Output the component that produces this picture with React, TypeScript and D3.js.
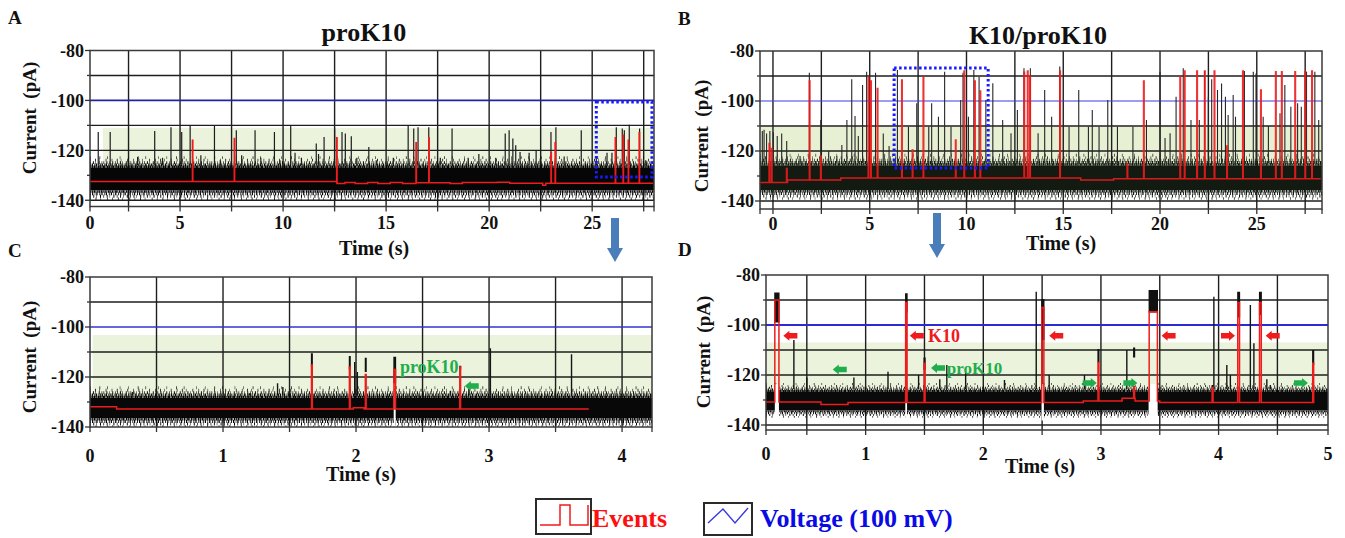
import React from "react";
import * as d3 from "d3";

const FONT = "'Liberation Serif', 'Times New Roman', Times, serif";

// ---------------- shared axis values ----------------
const currentTickLabels = [-80, -100, -120, -140];
const currentMinorTicks = [-90, -110, -130];
const voltageLevel = -100;

// ---------------- Panel A : proK10 (full trace) ----------------
const aTimeTicks = [0, 5, 10, 15, 20, 25];
const aGridT = [2.5, 5, 7.5, 10, 12.5, 15, 17.5, 20, 22.5, 25, 27.5];
const aGridI = [-90, -110, -120, -130, -140];
const aNoiseT = [0.63, 28.0];
const aNoiseUp = [-127, -127];
const aNoiseLo = [-136, -136];
const aSpikeT = [1.03, 1.61, 2.48, 2.94, 3.77, 4.15, 4.56, 5.08, 5.49, 6.01, 6.67, 6.95, 7.73, 7.99, 8.64, 8.92, 9.58, 9.85, 10.37, 10.58, 10.89, 11.61, 11.72, 11.99, 12.5, 12.86, 13.02, 13.31, 13.58, 14.16, 14.52, 15.35, 16.07, 16.34, 16.55, 17.07, 17.63, 18.2, 18.98, 19.5, 20.32, 20.78, 20.97, 21.15, 21.29, 21.5, 21.94, 22.28, 22.5, 23.0, 23.24, 23.64, 24.47, 25.2, 25.72, 25.96, 26.17, 26.46, 26.56, 26.8, 27.3, 27.6];
const aSpikePeak = [-112.7, -112.7, -124, -122.7, -112.3, -123, -110.7, -112.7, -110, -122, -110, -124, -112, -122, -112, -123, -112.7, -124, -110, -121, -123, -117.3, -121.5, -114.7, -111.3, -112.7, -113.3, -114.4, -123, -118.7, -124, -123, -110, -111.3, -110.7, -110.7, -123, -111.3, -123, -121.5, -123, -113.3, -112, -115.3, -118, -120.7, -121, -120, -123, -112.7, -110.7, -122.5, -112, -123, -121, -121, -110.7, -111.3, -112, -109.7, -111.3, -124];
const aEventT = [5.6, 7.63, 12.6, 16.45, 17.07, 23.0, 23.2, 26.12, 26.5, 26.75, 27.28];
const aEventLevel = [-116, -115.3, -115, -117, -115, -121, -117, -115, -114, -116, -113];
const aBaseT = [0.63, 12.6, 13.0, 13.5, 14.1, 14.6, 15.2, 15.8, 16.45, 18.1, 18.7, 20.4, 21.0, 22.6, 22.75];
const aBaseV = [-132.5, -133.3, -132.9, -133.3, -132.9, -133.3, -132.9, -133.3, -133, -133.3, -132.9, -132.8, -133.2, -134, -133.2];
const aZoomBox = [25.2, 27.9, -100.6, -130.7];

// ---------------- Panel B : K10/proK10 (full trace) ----------------
const bTimeTicks = [0, 5, 10, 15, 20, 25];
const bGridT = [0, 2.5, 5, 7.5, 10, 12.5, 15, 17.5, 20, 22.5, 25, 27.5];
const bGridI = [-90, -110, -120, -130, -140];
const bNoiseT = [-0.67, 28.37];
const bNoiseUp = [-125.8, -125.8];
const bNoiseLo = [-135.6, -135.6];
const bSpikeT = [-0.55, -0.46, -0.33, -0.16, 0.02, 0.22, 0.45, 0.71, 1.05, 1.4, 1.88, 2.47, 2.88, 3.3, 3.56, 3.82, 4.07, 4.24, 4.41, 4.63, 4.84, 5.3, 5.7, 6.0, 6.43, 7.0, 7.43, 8.05, 8.2, 8.55, 8.87, 9.2, 9.7, 9.82, 10.1, 10.38, 10.65, 11.0, 11.36, 11.87, 12.3, 12.63, 12.97, 13.3, 13.7, 14.04, 14.4, 14.82, 15.3, 15.8, 16.3, 16.5, 16.85, 17.3, 17.8, 18.6, 19.3, 20.0, 20.26, 20.52, 20.83, 21.2, 21.6, 22.03, 22.3, 22.5, 22.67, 22.97, 23.18, 23.38, 23.52, 23.78, 23.9, 24.36, 24.82, 24.96, 25.33, 25.6, 26.2, 26.45, 26.76, 27.11, 27.3, 27.57, 28.0, 28.2];
const bSpikePeak = [-112, -111.5, -113, -112, -112.5, -114, -113, -116, -124.9, -122, -88.7, -107.6, -120, -122, -117.6, -107.6, -91.3, -106, -114, -93.6, -88.3, -88.7, -113, -118, -87.6, -110.3, -100.9, -110.3, -100.9, -106.3, -88.3, -110.3, -99.6, -88.7, -106.3, -87.6, -90.3, -99.6, -92.9, -107.6, -112.9, -103.6, -86.9, -86.9, -112.9, -95.6, -106.3, -86.2, -110.3, -95.6, -110.3, -103.6, -110.3, -99.6, -110.3, -110.3, -107.6, -88.3, -114.8, -112.9, -98.3, -86.9, -107.6, -107.6, -88, -98.3, -91.3, -95.6, -93, -98.3, -105.6, -97.6, -106.3, -88, -88.3, -89, -106.3, -110, -104.9, -93.6, -102.3, -100.9, -102.3, -88.3, -88.3, -107.6];
const bEventT = [-0.2, -0.08, 0.7, 1.88, 2.46, 4.92, 5.05, 5.39, 6.65, 7.2, 7.76, 9.43, 9.87, 10.42, 10.7, 12.97, 13.15, 13.27, 14.82, 18.3, 19.15, 21.03, 21.26, 21.9, 22.3, 22.8, 23.45, 24.27, 25.2, 25.97, 26.28, 26.97, 27.49, 27.84];
const bEventLevel = [-117, -119, -127, -92, -122, -90.5, -92, -95, -91.6, -119.6, -90.5, -115.6, -88, -92, -96, -88.5, -88, -90, -88, -125, -92, -90.3, -88, -88, -88, -88, -118, -88, -95.6, -88.3, -88.3, -88.3, -88.3, -88];
const bBaseT = [-0.67, 0.75, 3.5, 15.9, 17.6];
const bBaseV = [-132.6, -131.6, -130.8, -131.6, -131.1];
const bZoomBox = [6.26, 11.12, -86.8, -126.8];

// ---------------- Panel C : proK10 (zoom) ----------------
const cTimeTicks = [0, 1, 2, 3, 4];
const cGridT = [0.5, 1, 1.5, 2, 2.5, 3, 3.5, 4];
const cGridI = [-90, -110, -120, -130];
const cNoiseT = [0, 4.225];
const cNoiseUp = [-128.4, -128.4];
const cNoiseLo = [-136.4, -136.4];
const cGaps: [number, number][] = [[2.283, 2.298]];
const cSpikeT = [0.32, 1.2, 1.41, 1.45, 1.99, 2.01, 2.71, 2.85, 3.01, 3.62];
const cSpikePeak = [-126, -126.5, -122.5, -124, -114, -118, -125.5, -124.5, -108.5, -110.9];
const cEventT = [1.665, 1.95, 2.07, 2.285, 2.78];
const cEventDur = [0.006, 0.006, 0.006, 0.012, 0.006];
const cEventLevel = [-115.2, -116, -119, -117, -116];
const cEventTop = [-110.5, -111.6, -112.3, -111.9, -115.5];
const cEventBottom = [-116, -117, -118, -122.5, -117];
const cBaseT = [0, 0.2, 1.98, 2.06];
const cBaseV = [-131.9, -132.8, -132.3, -132.8];
const cGreenArrowT = [2.87];
const cGreenArrowI = [-123.6];
const cGreenArrowDir = [-1];

// ---------------- Panel D : K10/proK10 (zoom) ----------------
const dTimeTicks = [0, 1, 2, 3, 4, 5];
const dGridT = [0.5, 1, 1.5, 2, 2.5, 3, 3.5, 4, 4.5];
const dGridI = [-90, -110, -120, -130, -140];
const dNoiseT = [0.153, 4.93];
const dNoiseUp = [-126.7, -126.7];
const dNoiseLo = [-134.2, -134.2];
const dGaps: [number, number][] = [[0.228, 0.263], [1.337, 1.352], [2.495, 2.515], [3.405, 3.482]];
const dSpikeT = [0.39, 0.5, 0.9, 1.19, 1.45, 1.63, 1.69, 1.85, 2.18, 2.45, 2.56, 2.86, 3.22, 3.96, 4.07, 4.1, 4.27, 4.3, 4.41, 4.44];
const dSpikePeak = [-106, -121, -121, -118.7, -120, -121.7, -116, -119, -122, -86.7, -120, -120, -110, -88.7, -116, -120, -92, -107.3, -121.7, -124];
const dEventT = [0.228, 1.34, 1.497, 2.497, 2.975, 3.278, 3.41, 3.945, 4.163, 4.348, 4.8];
const dEventDur = [0.035, 0.012, 0.008, 0.018, 0.008, 0.008, 0.07, 0.008, 0.015, 0.015, 0.008];
const dEventLevel = [-90, -91, -115.3, -93, -115, -124.7, -94.7, -125, -91, -91, -115.3];
const dEventTop = [-87, -87.3, -113, -89.6, -109.6, -109, -86, -124, -86.7, -86.7, -110];
const dEventBottom = [-99, -95, -118, -106, -115, -113, -95, -125, -97, -96, -116];
const dBaseT = [0.153, 0.62, 0.85, 2.85, 3.18, 3.29, 3.5];
const dBaseV = [-130.8, -131.8, -131, -130.4, -129.3, -130.4, -131];
const dRedArrowT = [0.36, 1.435, 2.62, 3.575, 4.08, 4.46];
const dRedArrowI = [-104.3, -104.3, -104.3, -104.3, -104.3, -104.3];
const dRedArrowDir = [-1, -1, -1, -1, 1, -1];
const dGreenArrowT = [0.78, 1.615, 2.905, 3.25, 4.7];
const dGreenArrowI = [-117.8, -117.2, -123.2, -123.2, -123.2];
const dGreenArrowDir = [-1, -1, 1, 1, 1];

// ---------------- Legend ----------------
const legendLabels = ["Events", "Voltage (100 mV)"];

type Ev = { t: number; d: number; lv: number; top?: number; bot?: number };
type Arrow = { t: number; i: number; dir: number; color: string };
type Note = { t: number; i: number; text: string; color: string; size: number };

interface PanelSpec {
  id: string;
  px: [number, number];
  py: [number, number];
  tDom: [number, number];
  iDom: [number, number];
  timeTicks: number[];
  tickBase: number;
  gridT: number[];
  gridI: number[];
  noiseT: number[];
  noiseUp: number[];
  noiseLo: number[];
  noiseFill: string;
  fringe: number;
  gaps: [number, number][];
  spikeT: number[];
  spikePeak: number[];
  spikeW: number;
  spikeColor: string;
  events: Ev[];
  baseT: number[];
  baseV: number[];
  redEnd: number;
  redOpacity: number;
  greenT: number;
  greenTop: number;
  greenFill: string;
  blueColor: string;
  blueW: number;
  zoomBox?: number[];
  arrows: Arrow[];
  notes: Note[];
}

const RED = "#ee1c1c";
const GREEN = "#1fae4b";

const panels: PanelSpec[] = [
  {
    id: "A", px: [90, 654], py: [50.5, 206.5], tDom: [0.63, 28.0], iDom: [-142.5, -80],
    timeTicks: aTimeTicks, tickBase: 228.5, gridT: aGridT, gridI: aGridI,
    noiseT: aNoiseT, noiseUp: aNoiseUp, noiseLo: aNoiseLo, noiseFill: "#060606", fringe: 1, gaps: [],
    spikeT: aSpikeT, spikePeak: aSpikePeak, spikeW: 1.2, spikeColor: "#1c1c1c",
    events: aEventT.map((t, i) => ({ t, d: 0.02, lv: aEventLevel[i] })),
    baseT: aBaseT, baseV: aBaseV, redEnd: 27.95, redOpacity: 1,
    greenT: 1.26, greenTop: -111, greenFill: "#ebf3dc", blueColor: "#2323a8", blueW: 1.8,
    zoomBox: aZoomBox, arrows: [], notes: [],
  },
  {
    id: "B", px: [760, 1322], py: [51, 209], tDom: [-0.67, 28.37], iDom: [-143.2, -80],
    timeTicks: bTimeTicks, tickBase: 229.5, gridT: bGridT, gridI: bGridI,
    noiseT: bNoiseT, noiseUp: bNoiseUp, noiseLo: bNoiseLo, noiseFill: "#131a11", fringe: 1, gaps: [],
    spikeT: bSpikeT, spikePeak: bSpikePeak, spikeW: 1.1, spikeColor: "#262626",
    events: bEventT.map((t, i) => ({ t, d: 0.03, lv: bEventLevel[i] })),
    baseT: bBaseT, baseV: bBaseV, redEnd: 28.3, redOpacity: 0.9,
    greenT: -0.67, greenTop: -110.3, greenFill: "#e7f0d3", blueColor: "#3b3be6", blueW: 1.2,
    zoomBox: bZoomBox, arrows: [], notes: [],
  },
  {
    id: "C", px: [90, 652], py: [277, 427], tDom: [0, 4.225], iDom: [-140, -80],
    timeTicks: cTimeTicks, tickBase: 461.5, gridT: cGridT, gridI: cGridI,
    noiseT: cNoiseT, noiseUp: cNoiseUp, noiseLo: cNoiseLo, noiseFill: "#080808", fringe: 1, gaps: cGaps,
    spikeT: cSpikeT, spikePeak: cSpikePeak, spikeW: 1.4, spikeColor: "#151515",
    events: cEventT.map((t, i) => ({ t, d: cEventDur[i], lv: cEventLevel[i], top: cEventTop[i], bot: cEventBottom[i] })),
    baseT: cBaseT, baseV: cBaseV, redEnd: 3.75, redOpacity: 1,
    greenT: 0.02, greenTop: -103.2, greenFill: "#ebf3dc", blueColor: "#3434d0", blueW: 1.5,
    arrows: cGreenArrowT.map((t, i) => ({ t, i: cGreenArrowI[i], dir: cGreenArrowDir[i], color: GREEN })),
    notes: [{ t: 2.33, i: -116, text: "proK10", color: GREEN, size: 18 }],
  },
  {
    id: "D", px: [766, 1328], py: [275, 430], tDom: [0.153, 4.93], iDom: [-142, -80],
    timeTicks: dTimeTicks, tickBase: 460, gridT: dGridT, gridI: dGridI,
    noiseT: dNoiseT, noiseUp: dNoiseUp, noiseLo: dNoiseLo, noiseFill: "#0a0a0a", fringe: 0.75, gaps: dGaps,
    spikeT: dSpikeT, spikePeak: dSpikePeak, spikeW: 1.4, spikeColor: "#151515",
    events: dEventT.map((t, i) => ({ t, d: dEventDur[i], lv: dEventLevel[i], top: dEventTop[i], bot: dEventBottom[i] })),
    baseT: dBaseT, baseV: dBaseV, redEnd: 4.815, redOpacity: 1,
    greenT: 0.16, greenTop: -107, greenFill: "#ebf3dc", blueColor: "#2b2bd6", blueW: 1.8,
    arrows: [
      ...dRedArrowT.map((t, i) => ({ t, i: dRedArrowI[i], dir: dRedArrowDir[i], color: RED })),
      ...dGreenArrowT.map((t, i) => ({ t, i: dGreenArrowI[i], dir: dGreenArrowDir[i], color: GREEN })),
    ],
    notes: [
      { t: 1.53, i: -104.3, text: "K10", color: RED, size: 18 },
      { t: 1.69, i: -117.2, text: "proK10", color: GREEN, size: 17 },
    ],
  },
];

// texture layers for the noise band edges: [offset (pA, away from band), stroke width (px), dash pattern]
const upperTexture: [number, number, string][] = [
  [0.4, 2.5, "1.6 0.5 1.1 0.4 2 0.6 0.9 0.5 1.4 0.3"],
  [1.2, 2.8, "0.9 0.8 1.3 1.1 0.6 0.9 1.5 1.4 0.8 0.6"],
  [2.1, 2.8, "0.7 2.2 1 1.6 0.5 2.8 0.9 1.9 0.6 1.3"],
  [3.1, 2.8, "0.6 4.5 0.8 3.2 0.5 6.1 0.7 5.3"],
  [4.1, 2.8, "0.5 9 0.7 7 0.6 12 0.5 8"],
];
const lowerTexture: [number, number, string][] = [
  [0.5, 2.5, "1.4 0.5 1 0.6 1.8 0.4 0.8 0.7"],
  [1.4, 2.8, "0.9 1.1 1.2 1.5 0.6 1 1.3 1.8"],
  [2.4, 2.8, "0.7 2.6 0.9 2 0.5 3.3 1 2.4"],
  [3.4, 2.4, "0.6 5 0.8 3.8 0.5 6.5 0.7 4.4"],
];

function ArrowShape({ cx, cy, dir, color }: { cx: number; cy: number; dir: number; color: string }) {
  const shape = [[-7, 0], [-1, -5], [-1, -2.8], [7, -2.8], [7, 2.8], [-1, 2.8], [-1, 5]];
  const pts = shape.map(([a, b]) => `${cx + (dir < 0 ? a : -a)},${cy + b}`);
  return <polygon points={pts.join(" ")} fill={color} />;
}

function Panel({ s }: { s: PanelSpec }) {
  const x = d3.scaleLinear().domain(s.tDom).range(s.px);
  const y = d3.scaleLinear().domain(s.iDom).range([s.py[1], s.py[0]]);
  const [L, R] = s.px;
  const [T, B] = s.py;
  const clipId = `clip-${s.id}`;
  const pts = s.noiseT.map((t, i) => ({ t, up: s.noiseUp[i], lo: s.noiseLo[i] }));
  const area = d3.area<any>().x((d) => x(d.t)).y0((d) => y(d.lo)).y1((d) => y(d.up))(pts) || "";
  const edge = (key: "up" | "lo", off: number) =>
    d3.line<any>().x((d) => x(d.t)).y((d) => y(d[key] + off))(pts) || "";
  const upAt = d3.scaleLinear().domain(s.noiseT).range(s.noiseUp).clamp(true);
  const f = s.fringe;

  // red event-detection trace
  const baseAt = (t: number) => {
    let v = s.baseV[0];
    s.baseT.forEach((st, i) => { if (st <= t) v = s.baseV[i]; });
    return v;
  };
  const t0 = s.tDom[0];
  const t1 = s.redEnd;
  const knots: { t: number; kind: "s" | "e"; i: number }[] = [];
  s.baseT.forEach((t, i) => { if (t > t0 && t < t1) knots.push({ t, kind: "s", i }); });
  s.events.forEach((e, i) => { if (e.t > t0 && e.t < t1) knots.push({ t: e.t, kind: "e", i }); });
  knots.sort((a, b) => a.t - b.t);
  const rp: [number, number][] = [[t0, baseAt(t0)]];
  for (const k of knots) {
    if (k.kind === "s") {
      rp.push([k.t, baseAt(k.t - 1e-6)], [k.t, s.baseV[k.i]]);
    } else {
      const e = s.events[k.i];
      const b = baseAt(e.t);
      rp.push([e.t, b], [e.t, e.lv], [e.t + e.d, e.lv], [e.t + e.d, b]);
    }
  }
  rp.push([t1, baseAt(t1)]);
  const redD = d3.line<[number, number]>().x((p) => x(p[0])).y((p) => y(p[1]))(rp) || "";

  const clampX = (v: number) => Math.max(L, Math.min(R, x(v)));

  return (
    <g>
      <defs>
        <clipPath id={clipId}>
          <rect x={L} y={T} width={R - L} height={B - T} />
        </clipPath>
      </defs>
      <rect x={L} y={T} width={R - L} height={B - T} fill="#fff" />
      <g clipPath={`url(#${clipId})`}>
        <rect x={x(s.greenT)} y={y(s.greenTop)} width={R - x(s.greenT)} height={y(-129) - y(s.greenTop)} fill={s.greenFill} />
        {s.gridT.map((t) => (
          <line key={`gt${t}`} x1={x(t)} x2={x(t)} y1={T} y2={B} stroke="#1e1e1e" strokeWidth={1.4} />
        ))}
        {s.gridI.map((v) => (
          <line key={`gi${v}`} x1={L} x2={R} y1={y(v)} y2={y(v)} stroke="#1e1e1e" strokeWidth={1.4} />
        ))}
        <line x1={L} x2={R} y1={y(voltageLevel)} y2={y(voltageLevel)} stroke={s.blueColor} strokeWidth={s.blueW} />
        {/* baseline noise band */}
        <path d={area} fill={s.noiseFill} />
        {upperTexture.map(([off, w, dash], i) => (
          <path key={`ut${i}`} d={edge("up", off * f)} fill="none" stroke={s.noiseFill} strokeWidth={w * f} strokeDasharray={dash} />
        ))}
        {lowerTexture.map(([off, w, dash], i) => (
          <path key={`lt${i}`} d={edge("lo", -off * f)} fill="none" stroke={s.noiseFill} strokeWidth={w * f} strokeDasharray={dash} />
        ))}
        {s.gaps.map(([g0, g1], i) => (
          <rect key={`gap${i}`} x={x(g0)} y={y(s.noiseUp[0] + 3)} width={Math.max(1, x(g1) - x(g0))}
            height={y(s.noiseLo[0] - 4) - y(s.noiseUp[0] + 3)} fill="#fff" />
        ))}
        {/* brief blockade spikes */}
        {s.spikeT.map((t, i) => (
          <line key={`sp${i}`} x1={x(t)} x2={x(t)} y1={y(upAt(t) + 1)} y2={y(s.spikePeak[i])}
            stroke={s.spikeColor} strokeWidth={s.spikeW} />
        ))}
        {/* events: black current part */}
        {s.events.map((e, i) =>
          e.top !== undefined && e.bot !== undefined ? (
            <rect key={`eb${i}`} x={x(e.t) - 0.6} y={y(e.top)} width={Math.max(1.6, x(e.t + e.d) - x(e.t) + 1.2)}
              height={y(e.bot) - y(e.top)} fill="#111" />
          ) : null
        )}
        <path d={redD} fill="none" stroke={RED} strokeWidth={1.5} strokeOpacity={s.redOpacity} />
      </g>
      <rect x={L} y={T} width={R - L} height={B - T} fill="none" stroke="#3a3a3a" strokeWidth={1.5} />
      {s.zoomBox && (
        <rect x={x(s.zoomBox[0])} y={y(s.zoomBox[2])} width={x(s.zoomBox[1]) - x(s.zoomBox[0])}
          height={y(s.zoomBox[3]) - y(s.zoomBox[2])} fill="none" stroke="#1a1aff" strokeWidth={3} strokeDasharray="2.5 2.5" />
      )}
      {s.arrows.map((a, i) => (
        <ArrowShape key={`ar${i}`} cx={x(a.t)} cy={y(a.i)} dir={a.dir} color={a.color} />
      ))}
      {s.notes.map((n, i) => (
        <text key={`nt${i}`} x={x(n.t)} y={y(n.i)} dy="0.35em" fill={n.color} fontSize={n.size} fontWeight="bold">
          {n.text}
        </text>
      ))}
      {/* y axis */}
      {currentTickLabels.filter((v) => v >= s.iDom[0]).map((v) => (
        <g key={`yl${v}`}>
          <line x1={L - 5} x2={L} y1={y(v)} y2={y(v)} stroke="#333" strokeWidth={1.3} />
          <text x={L - 6} y={y(v)} dy="0.36em" textAnchor="end" fontSize={18} fontWeight="bold" fill="#111">
            {String(v)}
          </text>
        </g>
      ))}
      {currentMinorTicks.map((v) => (
        <line key={`ym${v}`} x1={L - 3} x2={L} y1={y(v)} y2={y(v)} stroke="#333" strokeWidth={1.3} />
      ))}
      {/* x axis */}
      {[s.tDom[0], ...s.gridT, s.tDom[1]].map((t, i) => (
        <line key={`xt${i}`} x1={clampX(t)} x2={clampX(t)} y1={B} y2={B + 5} stroke="#333" strokeWidth={1.3} />
      ))}
      {s.timeTicks.map((t) => (
        <text key={`xl${t}`} x={clampX(t)} y={s.tickBase} textAnchor="middle" fontSize={18} fontWeight="bold" fill="#111">
          {String(t)}
        </text>
      ))}
    </g>
  );
}

function BlueDownArrow({ x, y0, y1 }: { x: number; y0: number; y1: number }) {
  const hs = y1 - 14;
  const pts = [[x - 4, y0], [x + 4, y0], [x + 4, hs], [x + 8, hs], [x, y1], [x - 8, hs], [x - 4, hs]];
  return <polygon points={pts.map((p) => p.join(",")).join(" ")} fill="#4a7ebb" />;
}

export default function App() {
  return (
    <svg width={1345} height={538} viewBox="0 0 1345 538"
      style={{ position: "absolute", left: 0, top: 0, display: "block", background: "#fff" }}
      fontFamily={FONT}>
      <rect width={1345} height={538} fill="#fff" />
      {panels.map((p) => <Panel key={p.id} s={p} />)}

      {/* panel letters */}
      <text x={8} y={24} fontSize={19} fontWeight="bold" fill="#111">A</text>
      <text x={678} y={25} fontSize={19} fontWeight="bold" fill="#111">B</text>
      <text x={8} y={257} fontSize={19} fontWeight="bold" fill="#111">C</text>
      <text x={678} y={256} fontSize={19} fontWeight="bold" fill="#111">D</text>

      {/* titles */}
      <text x={364} y={41} textAnchor="middle" fontSize={26} fontWeight="bold" fill="#111">proK10</text>
      <text x={1038} y={44} textAnchor="middle" fontSize={26} fontWeight="bold" fill="#111">K10/proK10</text>

      {/* axis titles */}
      {[
        [29, 118], [701, 136], [29, 357], [703, 352],
      ].map(([cx, cy], i) => (
        <text key={`yt${i}`} transform={`translate(${cx},${cy}) rotate(-90)`} textAnchor="middle" dy="0.35em"
          fontSize={19} fontWeight="bold" fill="#111">{"Current\u00a0 (pA)"}</text>
      ))}
      {[
        [374, 255], [1061, 250], [361, 481], [1040, 473],
      ].map(([cx, by], i) => (
        <text key={`xt${i}`} x={cx} y={by} textAnchor="middle" fontSize={20} fontWeight="bold" fill="#111">Time (s)</text>
      ))}

      <BlueDownArrow x={615} y0={218} y1={262} />
      <BlueDownArrow x={937} y0={213} y1={258} />

      {/* legend */}
      <rect x={536} y={499} width={55} height={35} fill="#fff" stroke="#2a2a2a" strokeWidth={2} />
      <path d="M540,525 H560 V505 H570 V525 H588 V505" fill="none" stroke={RED} strokeWidth={1.5} />
      <text x={592} y={527} fontSize={26} fontWeight="bold" fill="#ff1010">{legendLabels[0]}</text>
      <rect x={704} y={503} width={48} height={32} fill="#fff" stroke="#2a2a2a" strokeWidth={2} />
      <path d="M708,523 L723,509 L735,523 L748,508" fill="none" stroke="#3a3ae0" strokeWidth={1.4} />
      <text x={760} y={527} fontSize={26} fontWeight="bold" fill="#0a0ae6">{legendLabels[1]}</text>
    </svg>
  );
}
